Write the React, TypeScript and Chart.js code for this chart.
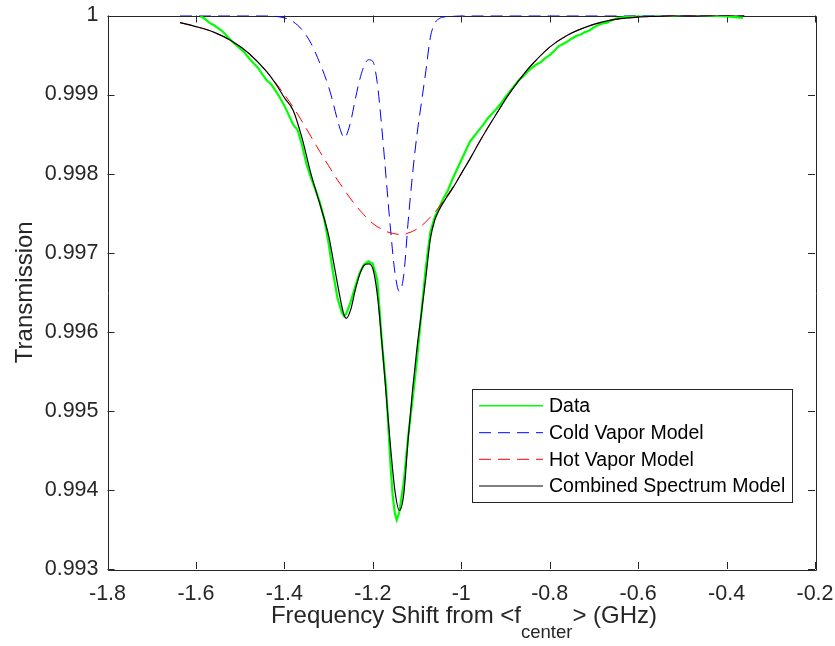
import { useEffect, useRef } from "react";
import { Chart, registerables } from "chart.js";

Chart.register(...registerables);

const FONT = '"Liberation Sans", Arial, Helvetica, sans-serif';
const AXIS = "#262626";

const xTickValues = [-1.8, -1.6, -1.4, -1.2, -1.0, -0.8, -0.6, -0.4, -0.2];
const yTickValues = [0.993, 0.994, 0.995, 0.996, 0.997, 0.998, 0.999, 1.0];

const seriesNames = ["Data", "Cold Vapor Model", "Hot Vapor Model", "Combined Spectrum Model"];
const seriesColors = ["#00ff00", "#0000ff", "#ff0000", "#000000"];

// measured data (green)
const dataX = [
  -1.59, -1.58, -1.57, -1.56, -1.55, -1.54, -1.53, -1.52, -1.51, -1.5,
  -1.49, -1.48, -1.47, -1.46, -1.45, -1.44, -1.43, -1.42, -1.41, -1.4,
  -1.39, -1.38, -1.37, -1.36, -1.35, -1.34, -1.33, -1.32, -1.31, -1.3,
  -1.29, -1.28, -1.27, -1.265, -1.26, -1.25, -1.24, -1.23, -1.22, -1.21,
  -1.2, -1.19, -1.185, -1.18, -1.17, -1.16, -1.155, -1.15, -1.146, -1.14,
  -1.13, -1.12, -1.11, -1.1, -1.09, -1.08, -1.07, -1.06, -1.05, -1.04,
  -1.03, -1.02, -1.01, -1.0, -0.99, -0.98, -0.97, -0.96, -0.95, -0.94,
  -0.93, -0.92, -0.91, -0.9, -0.89, -0.88, -0.87, -0.86, -0.85, -0.84,
  -0.83, -0.82, -0.81, -0.8, -0.79, -0.78, -0.77, -0.76, -0.75, -0.74,
  -0.73, -0.72, -0.71, -0.7, -0.69, -0.68, -0.67, -0.66, -0.65, -0.64,
  -0.63, -0.62, -0.6, -0.56, -0.52, -0.48, -0.44, -0.4, -0.38, -0.363,
];
const dataY = [
  0.99999, 0.99996, 0.99991, 0.99988, 0.99984, 0.9998, 0.99974, 0.99968, 0.99963, 0.99958,
  0.99953, 0.99946, 0.9994, 0.99934, 0.99926, 0.99918, 0.99913, 0.99905, 0.99896, 0.99886,
  0.99874, 0.99862, 0.99855, 0.99836, 0.99812, 0.99795, 0.9978, 0.99764, 0.99743, 0.99712,
  0.99675, 0.99643, 0.99624, 0.9962, 0.99623, 0.99638, 0.99657, 0.99674, 0.99685, 0.99689,
  0.99686, 0.99666, 0.9963, 0.9959, 0.9953, 0.99432, 0.99392, 0.9937, 0.99362, 0.99372,
  0.9941, 0.99468, 0.99515, 0.99565, 0.99625, 0.99682, 0.99726, 0.99745, 0.99757, 0.99769,
  0.99779, 0.99793, 0.99805, 0.99817, 0.99829, 0.99841, 0.99848, 0.99855, 0.99862, 0.9987,
  0.99876, 0.99882, 0.99889, 0.99897, 0.99904, 0.99911, 0.99918, 0.99923, 0.99929, 0.99934,
  0.99938, 0.99941, 0.99946, 0.9995, 0.99955, 0.99961, 0.99964, 0.99967, 0.99971, 0.99974,
  0.99976, 0.99979, 0.99981, 0.99985, 0.99988, 0.9999, 0.99991, 0.99994, 0.99996, 0.99997,
  0.99998, 0.99999, 1.0, 1.00001, 1.0, 1.00001, 1.0, 0.99999, 0.99998, 0.99997,
];

// model frequency grid
const modelX = [
  -1.636, -1.6, -1.56, -1.52, -1.48, -1.44, -1.42, -1.4, -1.38, -1.36,
  -1.34, -1.32, -1.3, -1.29, -1.28, -1.27, -1.265, -1.26, -1.25, -1.24,
  -1.23, -1.22, -1.21, -1.2, -1.19, -1.18, -1.17, -1.16, -1.15, -1.14,
  -1.13, -1.12, -1.11, -1.1, -1.09, -1.08, -1.07, -1.06, -1.05, -1.04,
  -1.02, -1.0, -0.98, -0.96, -0.94, -0.92, -0.9, -0.88, -0.86, -0.84,
  -0.8, -0.76, -0.72, -0.68, -0.64, -0.6, -0.56, -0.52, -0.48, -0.44,
  -0.4, -0.36,
];
const coldY = [
  1.0, 1.0, 1.0, 1.0, 1.0, 1.0, 0.99999, 0.99997, 0.99992, 0.99982,
  0.99965, 0.9994, 0.9991, 0.9989, 0.99868, 0.9985, 0.99845, 0.99848, 0.99866, 0.99893,
  0.99918, 0.99936, 0.99944, 0.99942, 0.99915, 0.9986, 0.99795, 0.9973, 0.99675, 0.99651,
  0.99672, 0.9974, 0.998, 0.9985, 0.9989, 0.9993, 0.99972, 0.9999, 0.99996, 0.99998,
  0.99999, 1.0, 1.0, 1.0, 1.0, 1.0, 1.0, 1.0, 1.0, 1.0,
  1.0, 1.0, 1.0, 1.0, 1.0, 1.0, 1.0, 1.0, 1.0, 1.0,
  1.0, 1.0,
];
const hotY = [
  0.99991, 0.99986, 0.99979, 0.99968, 0.99952, 0.99929, 0.99915, 0.999, 0.99884, 0.99866,
  0.99847, 0.99828, 0.9981, 0.99801, 0.99792, 0.99784, 0.9978, 0.99776, 0.99768, 0.99761,
  0.99754, 0.99748, 0.99742, 0.99737, 0.99733, 0.9973, 0.99727, 0.99725, 0.99724, 0.99723,
  0.99723, 0.99725, 0.99727, 0.9973, 0.99734, 0.99739, 0.99745, 0.99751, 0.99758, 0.99766,
  0.99782, 0.998, 0.99819, 0.99839, 0.99858, 0.99876, 0.99894, 0.9991, 0.99925, 0.99938,
  0.9996, 0.99975, 0.99985, 0.99992, 0.99996, 0.99998, 0.99999, 1.0, 1.0, 1.0,
  1.0, 1.0,
];
const combinedY = [
  0.99991, 0.99986, 0.99979, 0.99968, 0.99952, 0.99929, 0.99914, 0.99896, 0.9988, 0.99845,
  0.998, 0.99762, 0.99722, 0.99692, 0.99661, 0.99632, 0.99621, 0.99617, 0.99628, 0.99652,
  0.99672, 0.99684, 0.99686, 0.9968, 0.99648, 0.9959, 0.99522, 0.99455, 0.99399, 0.99374,
  0.99395, 0.99465, 0.99527, 0.9958, 0.99624, 0.99669, 0.99717, 0.99741, 0.99754, 0.99764,
  0.99781, 0.998, 0.99819, 0.99839, 0.99858, 0.99876, 0.99894, 0.9991, 0.99925, 0.99938,
  0.9996, 0.99975, 0.99985, 0.99992, 0.99996, 0.99998, 0.99999, 1.0, 1.0, 1.0,
  1.0, 1.0,
];

const pts = (xs: number[], ys: number[]) => xs.map((x, i) => ({ x, y: ys[i] }));

const fmt = (v: number, d: number) => String(parseFloat(Number(v).toFixed(d)));

const decorPlugin = {
  id: "matlabDecor",
  beforeDatasetsDraw(chart: any) {
    const { ctx, chartArea } = chart;
    const { left, right, top, bottom } = chartArea;
    const xs = chart.scales.x;
    const ys = chart.scales.y;
    ctx.save();
    ctx.strokeStyle = AXIS;
    ctx.lineWidth = 1;
    ctx.beginPath();
    ctx.rect(Math.round(left) + 0.5, Math.round(top) + 0.5, Math.round(right - left), Math.round(bottom - top));
    ctx.stroke();
    const tl = 7;
    ctx.beginPath();
    xTickValues.forEach((v) => {
      const px = Math.round(xs.getPixelForValue(v)) + 0.5;
      ctx.moveTo(px, bottom);
      ctx.lineTo(px, bottom - tl);
      ctx.moveTo(px, top);
      ctx.lineTo(px, top + tl);
    });
    yTickValues.forEach((v) => {
      const py = Math.round(ys.getPixelForValue(v)) + 0.5;
      ctx.moveTo(left, py);
      ctx.lineTo(left + tl, py);
      ctx.moveTo(right, py);
      ctx.lineTo(right - tl, py);
    });
    ctx.stroke();
    ctx.restore();
  },
  afterDraw(chart: any) {
    const { ctx, chartArea } = chart;
    const { top, bottom } = chartArea;
    ctx.save();
    // legend
    const bx = 472.5, by = 389.5, bw = 320, bh = 113;
    ctx.fillStyle = "#ffffff";
    ctx.fillRect(bx, by, bw, bh);
    ctx.strokeStyle = AXIS;
    ctx.lineWidth = 1;
    ctx.strokeRect(bx, by, bw, bh);
    const rowY = [405.7, 432.7, 459.3, 486];
    const dashes = [[], [12, 7], [12, 7], []];
    ctx.font = `19.5px ${FONT}`;
    ctx.textBaseline = "middle";
    ctx.textAlign = "left";
    seriesNames.forEach((name, i) => {
      ctx.strokeStyle = seriesColors[i];
      ctx.lineWidth = i === 0 ? 1.5 : 1;
      ctx.setLineDash(dashes[i]);
      ctx.beginPath();
      ctx.moveTo(479, rowY[i]);
      ctx.lineTo(543, rowY[i]);
      ctx.stroke();
      ctx.setLineDash([]);
      ctx.fillStyle = "#000000";
      ctx.fillText(name, 549, rowY[i] + 1);
    });

    // x title with subscript
    ctx.fillStyle = AXIS;
    ctx.textBaseline = "alphabetic";
    const mainFont = `24px ${FONT}`;
    const subFont = `18.5px ${FONT}`;
    const p1 = "Frequency Shift from <f";
    const p2 = "center";
    const p3 = "> (GHz)";
    ctx.font = mainFont;
    const w1 = ctx.measureText(p1).width;
    const w3 = ctx.measureText(p3).width;
    ctx.font = subFont;
    const w2 = ctx.measureText(p2).width;
    const total = w1 + w2 + w3;
    let sx = 464 - total / 2;
    const base = 623;
    ctx.font = mainFont;
    ctx.fillText(p1, sx, base);
    sx += w1;
    ctx.font = subFont;
    ctx.fillText(p2, sx, base + 15);
    sx += w2;
    ctx.font = mainFont;
    ctx.fillText(p3, sx, base);

    // y title
    ctx.save();
    ctx.translate(32, (top + bottom) / 2);
    ctx.rotate(-Math.PI / 2);
    ctx.textAlign = "center";
    ctx.font = mainFont;
    ctx.fillText("Transmission", 0, 0);
    ctx.restore();

    ctx.restore();
  },
};

export default function App() {
  const ref = useRef<HTMLCanvasElement | null>(null);
  useEffect(() => {
    document.body.style.margin = "0";
    const canvas = ref.current;
    if (!canvas) return;
    const chart = new Chart(canvas, {
      type: "scatter",
      data: {
        datasets: [
          {
            label: seriesNames[0],
            data: pts(dataX, dataY),
            borderColor: seriesColors[0],
            backgroundColor: seriesColors[0],
            borderWidth: 2.2,
            showLine: true,
            pointRadius: 0,
            tension: 0,
            order: 4,
          },
          {
            label: seriesNames[1],
            data: pts(modelX, coldY),
            borderColor: seriesColors[1],
            backgroundColor: seriesColors[1],
            borderWidth: 1,
            borderDash: [12, 7],
            showLine: true,
            pointRadius: 0,
            cubicInterpolationMode: "monotone",
            order: 3,
          },
          {
            label: seriesNames[2],
            data: pts(modelX, hotY),
            borderColor: seriesColors[2],
            backgroundColor: seriesColors[2],
            borderWidth: 1,
            borderDash: [12, 7],
            showLine: true,
            pointRadius: 0,
            cubicInterpolationMode: "monotone",
            order: 2,
          },
          {
            label: seriesNames[3],
            data: pts(modelX, combinedY),
            borderColor: seriesColors[3],
            backgroundColor: seriesColors[3],
            borderWidth: 1.2,
            showLine: true,
            pointRadius: 0,
            cubicInterpolationMode: "monotone",
            order: 1,
          },
        ],
      },
      options: {
        animation: false,
        responsive: true,
        maintainAspectRatio: false,
        layout: { padding: { top: 15.5, right: 20, left: 0, bottom: 0 } },
        plugins: { legend: { display: false }, tooltip: { enabled: false } },
        scales: {
          x: {
            type: "linear",
            min: -1.8,
            max: -0.2,
            grid: { display: false, drawTicks: false },
            border: { display: false },
            afterBuildTicks: (s: any) => {
              s.ticks = xTickValues.map((v) => ({ value: v }));
            },
            afterFit: (s: any) => {
              s.height = 77;
              s.paddingLeft = 0;
              s.paddingRight = 0;
              s.paddingTop = 0;
              s.paddingBottom = 0;
            },
            ticks: {
              autoSkip: false,
              maxRotation: 0,
              padding: 12,
              color: AXIS,
              font: { family: FONT, size: 21.5 },
              callback: (v: any) => fmt(v, 1),
            },
          },
          y: {
            type: "linear",
            min: 0.993,
            max: 1.0,
            grid: { display: false, drawTicks: false },
            border: { display: false },
            afterBuildTicks: (s: any) => {
              s.ticks = yTickValues.map((v) => ({ value: v }));
            },
            afterFit: (s: any) => {
              s.width = 107.5;
              s.paddingLeft = 0;
              s.paddingRight = 0;
              s.paddingTop = 0;
              s.paddingBottom = 0;
            },
            ticks: {
              autoSkip: false,
              padding: 9,
              color: AXIS,
              font: { family: FONT, size: 21.5 },
              callback: (v: any) => fmt(v, 3),
            },
          },
        },
      },
      plugins: [decorPlugin],
    } as any);
    return () => chart.destroy();
  }, []);
  return (
    <div style={{ position: "fixed", left: 0, top: 0, width: 835, height: 646, background: "#fff" }}>
      <canvas ref={ref} />
    </div>
  );
}
